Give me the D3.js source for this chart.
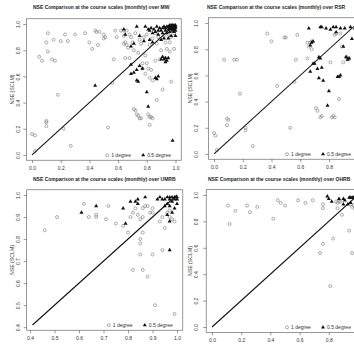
<!DOCTYPE html>
<html>
<head>
<meta charset="utf-8">
<script src="https://cdn.jsdelivr.net/npm/d3@7"></script>
<style>
  body { margin: 0; background: #fff; }
  svg { display: block; font-family: "Liberation Sans", Arial, sans-serif; }
</style>
</head>
<body>
<script>
//SVG dimension variables
var w = 354, h = 347;

//tick values for each panel
var ticksUnit = [0, 0.2, 0.4, 0.6, 0.8, 1.0];
var ticksUmrb = [0.4, 0.5, 0.6, 0.7, 0.8, 0.9, 1.0];

//titles
var titles = [
    "NSE Comparison at the course scales (monthly) over MW",
    "NSE Comparison at the course scales (monthly) over RSR",
    "NSE Comparison at the course scales (monthly) over UMRB",
    "NSE Comparison at the course scales (monthly) over OHRB"
];

//MW: [NSE 1 degree run, NSE SCLM]
var mwOne = [
    [0.00,0.16],[0.02,0.15],[0.02,0.03],[0.10,0.26],[0.10,0.25],[0.10,0.22],[0.22,0.20],[0.27,0.07],[0.18,0.46],
    [0.11,0.93],[0.10,0.86],[0.15,0.88],[0.20,0.87],[0.23,0.92],[0.25,0.87],[0.30,0.92],[0.37,0.93],[0.40,0.86],[0.42,0.81],
    [0.44,0.95],[0.45,0.94],[0.47,0.94],[0.46,0.84],[0.50,0.92],[0.51,0.90],[0.50,0.89],[0.05,0.75],[0.07,0.72],[0.11,0.79],
    [0.14,0.73],[0.16,0.72],[0.53,0.21],[0.57,0.73],[0.56,0.55],[0.65,0.74],[0.59,0.90],[0.58,0.95],[0.62,0.95],[0.64,0.95],
    [0.66,0.95],[0.64,0.91],[0.68,0.92],[0.69,0.90],[0.64,0.85],[0.66,0.84],[0.65,0.86],[0.67,0.82],[0.70,0.86],[0.71,0.80],
    [0.68,0.74],[0.71,0.35],[0.72,0.34],[0.73,0.31],[0.74,0.30],[0.76,0.28],[0.75,0.28],[0.81,0.31],[0.83,0.29],[0.82,0.29],
    [0.84,0.28],[0.82,0.23],[0.77,0.70],[0.77,0.66],[0.79,0.62],[0.80,0.70],[0.81,0.66],[0.82,0.59],[0.83,0.65],[0.84,0.57],
    [0.87,0.42],[0.91,0.50],[0.97,0.56],[0.86,0.72],[0.89,0.73],[0.93,0.74],[0.90,0.80],[0.94,0.81],[0.96,0.79],[0.99,0.81],
    [0.75,0.88],[0.78,0.90],[0.80,0.92],[0.84,0.89],[0.86,0.93],[0.88,0.90],[0.92,0.91],[0.95,0.92],[0.97,0.90],[0.99,0.93],
    [0.93,0.86],[0.96,0.86],[0.72,0.93],[0.76,0.85],[0.82,0.84],[0.87,0.85],[0.74,0.78],[0.79,0.76]
];
var mwHalf = [
    [0.44,0.53],[0.73,0.98],[0.79,0.98],[0.81,0.96],[0.82,0.95],[0.84,0.93],[0.86,0.94],[0.88,0.95],[0.90,0.95],[0.93,0.97],
    [0.95,0.98],[0.96,0.99],[0.97,0.99],[0.98,0.99],[0.99,0.99],[1.00,0.99],[0.97,0.98],[0.98,0.97],[0.99,0.98],[1.00,0.98],
    [0.96,0.97],[0.95,0.96],[0.97,0.96],[0.99,0.96],[1.00,0.97],[0.94,0.98],[0.92,0.98],[0.91,0.97],[0.93,0.95],[0.98,0.95],
    [1.00,0.95],[0.89,0.97],[0.87,0.98],[0.85,0.96],[0.83,0.97],[0.96,0.94],[0.99,0.94],[0.91,0.93],[0.88,0.92],[0.94,0.93],
    [0.69,0.69],[0.73,0.65],[0.69,0.62],[0.71,0.63],[0.73,0.57],[0.74,0.56],[0.75,0.68],[0.77,0.66],[0.80,0.48],[0.81,0.37],
    [0.86,0.59],[0.88,0.60],[0.87,0.58],[0.91,0.75],[0.92,0.73],[0.93,0.74],[0.94,0.72],[0.95,0.74],[0.93,0.71],[0.90,0.73],
    [0.98,0.11],[0.69,0.83],[0.71,0.85],[0.64,0.96],[0.65,0.92],[0.75,0.91],[0.78,0.87],[0.82,0.88],[0.84,0.86],[0.90,0.88],
    [0.92,0.89],[0.97,0.91],[1.00,0.91],[0.95,0.89]
];

//RSR
var rsrOne = [
    [0.00,0.16],[0.01,0.14],[0.02,0.03],[0.09,0.27],[0.10,0.26],[0.09,0.22],[0.22,0.20],[0.22,0.18],[0.27,0.06],[0.18,0.46],
    [0.07,0.72],[0.14,0.72],[0.16,0.72],[0.37,0.92],[0.40,0.86],[0.49,0.89],[0.50,0.89],[0.58,0.91],[0.57,0.72],[0.56,0.55],
    [0.44,0.52],[0.53,0.20],[0.65,0.85],[0.67,0.85],[0.68,0.86],[0.66,0.82],[0.65,0.73],[0.68,0.80],[0.71,0.35],[0.72,0.33],
    [0.74,0.28],[0.75,0.29],[0.82,0.28],[0.83,0.29],[0.84,0.28],[0.87,0.42],[0.81,0.70],[0.84,0.91],[0.85,0.92],[0.88,0.92],
    [0.90,0.70],[0.92,0.74],[0.93,0.72],[0.89,0.82],[0.94,0.73]
];
var rsrHalf = [
    [0.66,0.96],[0.74,0.97],[0.75,0.97],[0.78,0.96],[0.81,0.95],[0.83,0.97],[0.85,0.97],[0.88,0.96],[0.91,0.96],[0.95,0.97],
    [0.85,0.93],[0.68,0.85],[0.69,0.86],[0.67,0.83],[0.74,0.73],[0.73,0.74],[0.69,0.69],[0.70,0.69],[0.67,0.63],[0.72,0.65],
    [0.75,0.66],[0.73,0.58],[0.76,0.56],[0.80,0.48],[0.79,0.37],[0.86,0.59],[0.87,0.59],[0.88,0.60],[0.90,0.82],[0.92,0.74],
    [0.93,0.72],[0.94,0.73],[0.96,0.88],[0.98,0.96],[0.99,0.93]
];

//UMRB
var umrbOne = [
    [0.46,0.84],[0.51,0.90],[0.62,0.96],[0.64,0.90],[0.67,0.91],[0.67,0.90],[0.72,0.95],[0.71,0.89],[0.75,0.87],[0.78,0.86],
    [0.80,0.83],[0.81,0.90],[0.82,0.92],[0.83,0.94],[0.86,0.94],[0.86,0.90],[0.85,0.89],[0.84,0.91],[0.87,0.95],[0.88,0.95],
    [0.89,0.92],[0.90,0.94],[0.90,0.92],[0.86,0.83],[0.85,0.80],[0.85,0.78],[0.85,0.73],[0.90,0.73],[0.86,0.66],[0.88,0.63],
    [0.82,0.66],[0.91,0.50],[0.94,0.75],[0.94,0.90],[0.96,0.92],[0.97,0.93],[0.99,0.46],[0.98,0.89],[0.97,0.90],[0.99,0.88],
    [0.93,0.88],[0.95,0.85]
];
var umrbHalf = [
    [0.61,0.92],[0.67,0.95],[0.78,0.94],[0.79,0.87],[0.81,0.97],[0.83,0.97],[0.84,0.98],[0.84,0.96],[0.87,0.99],[0.92,0.98],
    [0.93,0.99],[0.94,0.98],[0.95,0.98],[0.96,0.99],[0.97,0.99],[0.98,0.99],[0.99,0.99],[1.00,0.99],[0.97,0.98],[0.99,0.98],
    [1.00,0.98],[0.96,0.96],[0.98,0.97],[0.95,0.95],[0.97,0.95],[1.00,0.96],[0.96,0.91],[0.97,0.88],[0.97,0.75],[0.99,0.94],
    [0.98,0.92]
];

//OHRB
var ohOne = [
    [0.11,0.92],[0.12,0.78],[0.16,0.88],[0.24,0.92],[0.26,0.87],[0.31,0.91],[0.42,0.82],[0.45,0.96],[0.47,0.94],[0.50,0.92],
    [0.59,0.96],[0.64,0.94],[0.69,0.96],[0.74,0.56],[0.76,0.63],[0.76,0.93],[0.76,0.90],[0.81,0.31],[0.83,0.67],[0.85,0.95],
    [0.86,0.94],[0.87,0.95],[0.88,0.95],[0.86,0.90],[0.89,0.85],[0.94,0.73],[0.96,0.56],[0.95,0.93],[0.96,0.91],[0.97,0.92],
    [0.99,0.95],[0.98,0.89]
];
var ohHalf = [
    [0.79,0.99],[0.80,0.97],[0.82,0.95],[0.87,0.97],[0.90,0.97],[0.91,0.96],[0.94,0.98],[0.95,0.98],[0.96,0.98],[0.97,0.98],
    [0.93,0.93],[0.95,0.94],[0.90,0.93],[0.98,0.99],[1.00,0.99],[0.99,0.97]
];

//data limits (the 1:1 line runs between them)
var limsUnit = [0, 1];
var limsUmrb = [0.41, 1];

//panel layout: plot box in pixels, plus where text sits
var panels = [
    {title: titles[0], one: mwOne, half: mwHalf, lims: limsUnit, ticks: ticksUnit, ox: 0,
     box: {l: 26.3, r: 181.2, t: 18.8, b: 160.2}, titleX: 33, titleY: 9},
    {title: titles[1], one: rsrOne, half: rsrHalf, lims: limsUnit, ticks: ticksUnit, ox: 178,
     box: {l: 208.3, r: 363.4, t: 17.8, b: 159.2}, titleX: 207, titleY: 9},
    {title: titles[2], one: umrbOne, half: umrbHalf, lims: limsUmrb, ticks: ticksUmrb, ox: 0,
     box: {l: 26.7, r: 182.8, t: 189.8, b: 330.2}, titleX: 33, titleY: 181},
    {title: titles[3], one: ohOne, half: ohHalf, lims: limsUnit, ticks: ticksUnit, ox: 178,
     box: {l: 206.2, r: 363.8, t: 189.7, b: 332.3}, titleX: 208, titleY: 181}
];

var svg = d3.select("body")
    .append("svg")
    .attr("width", w)
    .attr("height", h);

var fmt = d3.format(".1f");
var tri = d3.symbol().type(d3.symbolTriangle).size(7);

//R style axis padding, 4% each side
function pad(lims){
    var d = (lims[1] - lims[0]) * 0.04;
    return [lims[0] - d, lims[1] + d];
}

panels.forEach(function(p){
    var g = svg.append("g");
    var b = p.box;

    var x = d3.scaleLinear().domain(pad(p.lims)).range([b.l, b.r]);
    var y = d3.scaleLinear().domain(pad(p.lims)).range([b.b, b.t]);

    //title
    g.append("text")
        .attr("x", p.titleX)
        .attr("y", p.titleY)
        .style("font-size", "5px")
        .style("font-weight", "bold")
        .style("fill", "#222")
        .text(p.title);

    //x axis
    var xAxis = g.append("g")
        .attr("transform", "translate(0," + b.b + ")")
        .call(d3.axisBottom(x).tickValues(p.ticks).tickFormat(fmt).tickSize(3).tickSizeOuter(0));
    xAxis.select(".domain").remove();
    xAxis.selectAll("line").attr("stroke", "#555").attr("stroke-width", 0.6);
    xAxis.selectAll("text")
        .attr("y", 6.5)
        .attr("font-family", null)
        .style("font-size", "5px")
        .style("fill", "#333");
    //labels that fall past the page edge are not shown in the cropped figure
    xAxis.selectAll(".tick")
        .filter(function(d){ return x(d) > w - 4; })
        .select("text").remove();

    //y axis, labels turned like R's las=0
    var yAxis = g.append("g")
        .attr("transform", "translate(" + b.l + ",0)")
        .call(d3.axisLeft(y).tickValues(p.ticks).tickFormat(fmt).tickSize(3).tickSizeOuter(0));
    yAxis.select(".domain").remove();
    yAxis.selectAll("line").attr("stroke", "#555").attr("stroke-width", 0.6);
    yAxis.selectAll("text")
        .attr("transform", "rotate(-90)")
        .attr("x", 0)
        .attr("y", -(b.l - p.ox - 18))
        .attr("dy", "0.35em")
        .attr("text-anchor", "middle")
        .attr("font-family", null)
        .style("font-size", "5px")
        .style("fill", "#333");

    //y axis title
    g.append("text")
        .attr("transform", "translate(" + (p.ox + 12) + "," + ((b.t + b.b) / 2) + ") rotate(-90)")
        .attr("text-anchor", "middle")
        .attr("dy", "0.35em")
        .style("font-size", "5.2px")
        .style("fill", "#333")
        .text("NSE (SCLM)");

    //1 degree, open circles
    g.selectAll(".one")
        .data(p.one)
        .enter()
        .append("circle")
        .attr("class", "one")
        .attr("cx", function(d){ return x(d[0]); })
        .attr("cy", function(d){ return y(d[1]); })
        .attr("r", 1.5)
        .style("fill", "none")
        .style("stroke", "#777")
        .style("stroke-width", 0.6);

    //0.5 degree, filled triangles
    g.selectAll(".half")
        .data(p.half)
        .enter()
        .append("path")
        .attr("class", "half")
        .attr("d", tri)
        .attr("transform", function(d){ return "translate(" + x(d[0]) + "," + y(d[1]) + ")"; })
        .style("fill", "#111");

    //1:1 line
    g.append("line")
        .attr("x1", x(p.lims[0]))
        .attr("y1", y(p.lims[0]))
        .attr("x2", x(p.lims[1]))
        .attr("y2", y(p.lims[1]))
        .style("stroke", "#111")
        .style("stroke-width", 1.1);

    //plot box
    g.append("rect")
        .attr("x", b.l)
        .attr("y", b.t)
        .attr("width", b.r - b.l)
        .attr("height", b.b - b.t)
        .style("fill", "none")
        .style("stroke", "#555")
        .style("stroke-width", 0.6);

    //legend, bottom right inside box (kept inside the page)
    var ly = b.b - 5;
    var lr = Math.min(b.r - 10, w - 3);
    g.append("circle")
        .attr("cx", lr - 64)
        .attr("cy", ly)
        .attr("r", 1.5)
        .style("fill", "none")
        .style("stroke", "#777")
        .style("stroke-width", 0.6);
    g.append("text")
        .attr("x", lr - 60)
        .attr("y", ly)
        .attr("dy", "0.35em")
        .style("font-size", "5px")
        .style("fill", "#333")
        .text("1 degree");
    g.append("path")
        .attr("d", tri)
        .attr("transform", "translate(" + (lr - 28) + "," + ly + ")")
        .style("fill", "#111");
    g.append("text")
        .attr("x", lr - 24)
        .attr("y", ly)
        .attr("dy", "0.35em")
        .style("font-size", "5px")
        .style("fill", "#333")
        .text("0.5 degree");
});
</script>
</body>
</html>
